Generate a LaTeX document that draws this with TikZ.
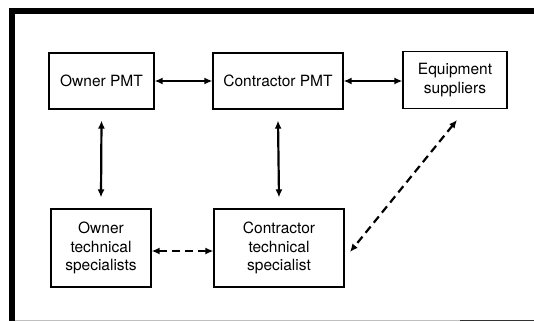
\documentclass[tikz,border=0pt]{standalone}
\usepackage{fontspec}
\setmainfont{TeX Gyre Heros}
\usetikzlibrary{arrows.meta}
\begin{document}
\begin{tikzpicture}[x=1pt,y=-1pt,
  box/.style={draw, line width=1.2pt, align=center, inner sep=0pt,
    font=\fontsize{15.5}{18.7}\selectfont},
  link/.style={line width=2.2pt, {Latex[length=8pt,width=7pt]}-{Latex[length=8pt,width=7pt]}},
  dlink/.style={link, dash pattern=on 8pt off 5pt}]
\useasboundingbox (0,0) rectangle (534,321);
% frame
\fill (9,8) rectangle (534,14);
\fill (9,8) rectangle (15,321);
\draw[gray!50, line width=1pt] (15,320) -- (460,320);
\draw[black!80, line width=1pt] (460,320) -- (534,320);
% boxes
\node[box, minimum width=105pt, minimum height=56pt] (opmt) at (101.5,81) {Owner PMT};
\node[box, minimum width=130pt, minimum height=56pt] (cpmt) at (278,81) {Contractor PMT};
\node[box, minimum width=104pt, minimum height=57pt] (eq) at (455,80) {Equipment\\suppliers};
\node[box, minimum width=100pt, minimum height=78pt] (otech) at (101,248) {Owner\\technical\\specialists};
\node[box, minimum width=130pt, minimum height=78pt] (ctech) at (279,248) {Contractor\\technical\\specialist};
% connectors
\draw[link] (opmt.east) -- (cpmt.west);
\draw[link] (cpmt.east) -- (eq.west |- cpmt.east);
\draw[link] ([yshift=-11pt]opmt.south) -- ([yshift=11pt]otech.north);
\draw[link] ([yshift=-11pt]cpmt.south) -- ([yshift=11pt]ctech.north);
\draw[dlink] ([yshift=-3pt]otech.east) -- ([yshift=-3pt]ctech.west);
\coordinate (d1) at (457,120);
\coordinate (d2) at (350,252);
\draw[dlink] (d1) -- (d2);
\end{tikzpicture}
\end{document}
